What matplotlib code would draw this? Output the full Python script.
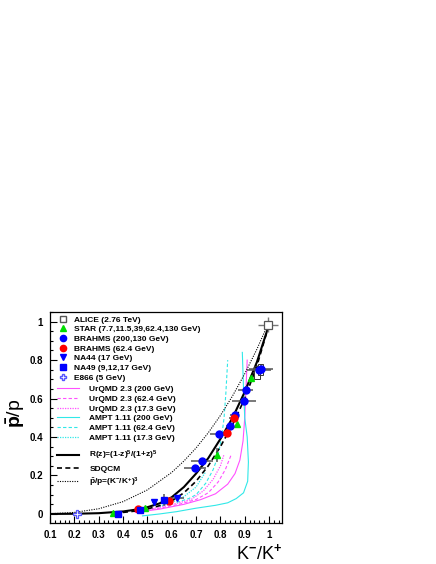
import matplotlib
matplotlib.use("Agg")
import matplotlib.pyplot as plt
from matplotlib.lines import Line2D
from matplotlib.patches import Rectangle
from matplotlib.ticker import MultipleLocator

plt.rcParams['font.family'] = ['Liberation Sans', 'DejaVu Sans']
plt.rcParams['font.weight'] = 'bold'
plt.rcParams['mathtext.fontset'] = 'custom'
plt.rcParams['mathtext.rm'] = 'Liberation Sans:bold'
plt.rcParams['mathtext.it'] = 'Liberation Sans:bold'
plt.rcParams['mathtext.bf'] = 'Liberation Sans:bold'

# ---- data points (K-/K+, pbar/p) ----
alice_x = [0.995]
alice_y = [0.985]
alice_xe = [0.04]
alice_ye = [0.04]

star_x = [0.360, 0.491, 0.786, 0.868, 0.927]
star_y = [0.004, 0.030, 0.307, 0.466, 0.706]
star_xe = [0.0, 0.0, 0.0, 0.0, 0.0]
star_ye = [0.0, 0.0, 0.035, 0.0, 0.0]

brahms200_x = [0.959, 0.967, 0.904, 0.896, 0.858, 0.838, 0.793, 0.724, 0.697]
brahms200_y = [0.749, 0.754, 0.645, 0.589, 0.515, 0.459, 0.414, 0.276, 0.238]
brahms200_xe = [0.05, 0.05, 0.03, 0.05, 0.02, 0.015, 0.035, 0.045, 0.045]
brahms200_ye = [0.02, 0.02, 0.02, 0.02, 0.02, 0.015, 0.015, 0.015, 0.015]

brahms62_x = [0.463, 0.587, 0.827, 0.854]
brahms62_y = [0.024, 0.068, 0.420, 0.498]
brahms62_xe = [0.01, 0.02, 0.015, 0.02]
brahms62_ye = [0.005, 0.01, 0.02, 0.02]

na44_x = [0.529, 0.621]
na44_y = [0.061, 0.082]
na44_xe = [0.01, 0.03]
na44_ye = [0.01, 0.01]

na49_x = [0.381, 0.470, 0.567]
na49_y = [0.000, 0.022, 0.072]
na49_xe = [0.0, 0.0, 0.0]
na49_ye = [0.0, 0.0, 0.03]

e866_x = [0.212]
e866_y = [0.000]

# systematic boxes on the top BRAHMS points
sys_x = [0.950, 0.966]
sys_y = [0.735, 0.750]
sys_dx = [0.012, 0.010]
sys_dy = [0.035, 0.030]

# ---- model curves ----
rz_x = [0.10, 0.20, 0.30, 0.40, 0.45, 0.50, 0.55, 0.60, 0.65, 0.70, 0.75, 0.80, 0.85, 0.90, 0.95, 1.00]
rz_y = [0.000, 0.001, 0.004, 0.013, 0.022, 0.035, 0.055, 0.087, 0.140, 0.210, 0.290, 0.390, 0.500, 0.635, 0.790, 0.985]

sdqcm_x = [0.40, 0.45, 0.50, 0.55, 0.60, 0.65, 0.70, 0.75, 0.80, 0.85, 0.90, 0.95, 1.00]
sdqcm_y = [0.008, 0.015, 0.026, 0.043, 0.068, 0.110, 0.170, 0.250, 0.350, 0.465, 0.600, 0.770, 0.985]

cube_x = [0.10, 0.20, 0.30, 0.40, 0.50, 0.60, 0.65, 0.70, 0.75, 0.80, 0.85, 0.90, 0.95, 1.00]
cube_y = [0.001, 0.008, 0.027, 0.064, 0.125, 0.216, 0.275, 0.343, 0.422, 0.512, 0.614, 0.729, 0.857, 1.000]

urqmd200_x = [0.45, 0.55, 0.65, 0.72, 0.78, 0.83, 0.86, 0.88, 0.893, 0.90, 0.905, 0.91]
urqmd200_y = [0.008, 0.025, 0.050, 0.075, 0.105, 0.155, 0.210, 0.280, 0.380, 0.500, 0.650, 0.800]
urqmd62_x = [0.45, 0.55, 0.63, 0.70, 0.75, 0.79, 0.82, 0.845]
urqmd62_y = [0.010, 0.030, 0.050, 0.075, 0.110, 0.165, 0.230, 0.310]
urqmd17_x = [0.45, 0.55, 0.62, 0.68, 0.73, 0.77, 0.80, 0.815]
urqmd17_y = [0.012, 0.035, 0.055, 0.075, 0.120, 0.180, 0.250, 0.310]

ampt200_x = [0.48, 0.55, 0.62, 0.70, 0.78, 0.83, 0.865, 0.895, 0.912, 0.915, 0.91, 0.90, 0.895, 0.89]
ampt200_y = [-0.010, 0.000, 0.012, 0.030, 0.045, 0.058, 0.080, 0.110, 0.170, 0.270, 0.400, 0.500, 0.650, 0.840]
ampt62_x = [0.62, 0.67, 0.70, 0.74, 0.77, 0.79, 0.805, 0.815, 0.822, 0.83]
ampt62_y = [0.060, 0.080, 0.100, 0.160, 0.230, 0.300, 0.400, 0.500, 0.620, 0.800]
ampt17_x = [0.55, 0.60, 0.65, 0.70, 0.74]
ampt17_y = [0.040, 0.060, 0.090, 0.140, 0.220]

W, H = 436, 564
fig = plt.figure(figsize=(W / 100, H / 100), dpi=100)
ax = fig.add_axes([50 / W, 1 - 523 / H, 232 / W, 211 / H])

magenta = '#ff50ff'
cyan = '#30e8e8'
green = '#00dd00'
ebc = '#555555'

# model lines
ax.plot(urqmd200_x, urqmd200_y, color=magenta, lw=0.8, ls='-')
ax.plot(urqmd62_x, urqmd62_y, color=magenta, lw=0.8, ls=(0, (3, 2)))
ax.plot(urqmd17_x, urqmd17_y, color=magenta, lw=0.9, ls=(0, (1, 1)))
ax.plot(ampt200_x, ampt200_y, color=cyan, lw=0.8, ls='-')
ax.plot(ampt62_x, ampt62_y, color=cyan, lw=0.8, ls=(0, (3, 2)))
ax.plot(ampt17_x, ampt17_y, color=cyan, lw=0.9, ls=(0, (1, 1)))
ax.plot(cube_x, cube_y, color='black', lw=0.8, ls=(0, (1, 1.2)))
ax.plot(sdqcm_x, sdqcm_y, color='black', lw=1.2, ls=(0, (3, 2)))
ax.plot(rz_x, rz_y, color='black', lw=1.5, ls='-')

for bx, by, dx, dy in zip(sys_x, sys_y, sys_dx, sys_dy):
    ax.add_patch(Rectangle((bx - dx, by - dy), 2 * dx, 2 * dy, fill=False,
                           ec='#333333', lw=0.7, zorder=3))

# data points
ms = 5
ax.errorbar(alice_x, alice_y, xerr=alice_xe, yerr=alice_ye, fmt='s', ms=5.5,
            mfc='white', mec='#555555', mew=0.9, ecolor='#777777', elinewidth=1, capsize=0, zorder=6)
ax.errorbar(star_x, star_y, xerr=star_xe, yerr=star_ye, fmt='^', ms=ms,
            color=green, ecolor=ebc, elinewidth=1.1, capsize=0, zorder=5)
ax.errorbar(brahms200_x, brahms200_y, xerr=brahms200_xe, yerr=brahms200_ye, fmt='o', ms=ms,
            color='#0000ff', ecolor=ebc, elinewidth=1.1, capsize=0, zorder=5)
ax.errorbar(brahms62_x, brahms62_y, xerr=brahms62_xe, yerr=brahms62_ye, fmt='o', ms=ms,
            color='#ff0000', ecolor=ebc, elinewidth=1.1, capsize=0, zorder=5)
ax.errorbar(na44_x, na44_y, xerr=na44_xe, yerr=na44_ye, fmt='v', ms=ms,
            color='#0000ff', ecolor=ebc, elinewidth=1.1, capsize=0, zorder=5)
ax.errorbar(na49_x, na49_y, xerr=na49_xe, yerr=na49_ye, fmt='s', ms=4.5,
            color='#0000ff', ecolor=ebc, elinewidth=1.1, capsize=0, zorder=5)
ax.plot(e866_x, e866_y, 'P', ms=5.5, mfc='white', mec='#5555ff', mew=0.9, zorder=5)

ax.set_xlim(0.1, 1.053)
ax.set_ylim(-0.047, 1.05)
ax.xaxis.set_major_locator(MultipleLocator(0.1))
ax.xaxis.set_minor_locator(MultipleLocator(0.02))
ax.yaxis.set_major_locator(MultipleLocator(0.2))
ax.yaxis.set_minor_locator(MultipleLocator(0.05))
ax.set_xticks([0.1, 0.2, 0.3, 0.4, 0.5, 0.6, 0.7, 0.8, 0.9, 1.0])
ax.set_xticklabels(['0.1', '0.2', '0.3', '0.4', '0.5', '0.6', '0.7', '0.8', '0.9', '1'])
ax.set_yticks([0, 0.2, 0.4, 0.6, 0.8, 1.0])
ax.set_yticklabels(['0', '0.2', '0.4', '0.6', '0.8', '1'])
ax.tick_params(which='both', direction='in', top=False, right=False, labelsize=7, pad=5, width=0.8)
ax.tick_params(which='major', length=5)
ax.tick_params(which='minor', length=2.5)
for sp in ax.spines.values():
    sp.set_linewidth(0.9)

ax.set_xlabel(r'K$^{-}$/K$^{+}$', fontsize=13, ha='right')
ax.xaxis.set_label_coords(1.0, -0.095)
ax.set_ylabel(r'$\bar{p}$/p', fontsize=14)
ax.yaxis.set_label_coords(-0.10, 0.52)

# legends
mk = dict(ls='none', ms=4.5)
h1 = [Line2D([], [], marker='s', mfc='white', mec='#555555', **mk),
      Line2D([], [], marker='^', color=green, **mk),
      Line2D([], [], marker='o', color='#0000ff', **mk),
      Line2D([], [], marker='o', color='#ff0000', **mk),
      Line2D([], [], marker='v', color='#0000ff', **mk),
      Line2D([], [], marker='s', color='#0000ff', **mk),
      Line2D([], [], marker='P', mfc='white', mec='#5555ff', **mk)]
l1 = ['ALICE (2.76 TeV)', 'STAR (7.7,11.5,39,62.4,130 GeV)', 'BRAHMS (200,130 GeV)',
      'BRAHMS (62.4 GeV)', 'NA44 (17 GeV)', 'NA49 (9,12,17 GeV)', 'E866 (5 GeV)']
h2 = [Line2D([], [], color=magenta, lw=0.8, ls='-'),
      Line2D([], [], color=magenta, lw=0.8, ls=(0, (3, 2))),
      Line2D([], [], color=magenta, lw=0.9, ls=(0, (1, 1))),
      Line2D([], [], color=cyan, lw=0.8, ls='-'),
      Line2D([], [], color=cyan, lw=0.8, ls=(0, (3, 2))),
      Line2D([], [], color=cyan, lw=0.9, ls=(0, (1, 1)))]
l2 = ['UrQMD 2.3 (200 GeV)', 'UrQMD 2.3 (62.4 GeV)', 'UrQMD 2.3 (17.3 GeV)',
      'AMPT 1.11 (200 GeV)', 'AMPT 1.11 (62.4 GeV)', 'AMPT 1.11 (17.3 GeV)']
h3 = [Line2D([], [], color='black', lw=1.5),
      Line2D([], [], color='black', lw=1.2, ls=(0, (3, 2))),
      Line2D([], [], color='black', lw=0.8, ls=(0, (1, 1.2)))]
l3 = [r'R(z)=(1-z)$^5$/(1+z)$^5$', 'SDQCM', r'$\bar{p}$/p=(K$^{-}$/K$^{+}$)$^3$']

common = dict(loc='upper left', frameon=False, fontsize=6, borderpad=0, borderaxespad=0)
leg1 = ax.legend(h1, l1, bbox_to_anchor=(0.03, 0.982), handlelength=1.4,
                 handletextpad=0.6, labelspacing=0.22, **common)
ax.add_artist(leg1)
leg2 = ax.legend(h2, l2, bbox_to_anchor=(0.03, 0.652), handlelength=2.6,
                 handletextpad=1.3, labelspacing=0.22, **common)
ax.add_artist(leg2)
ax.legend(h3, l3, bbox_to_anchor=(0.03, 0.35), handlelength=2.6,
          handletextpad=1.3, labelspacing=0.3, **common)

fig.savefig('out.png', dpi=100)
